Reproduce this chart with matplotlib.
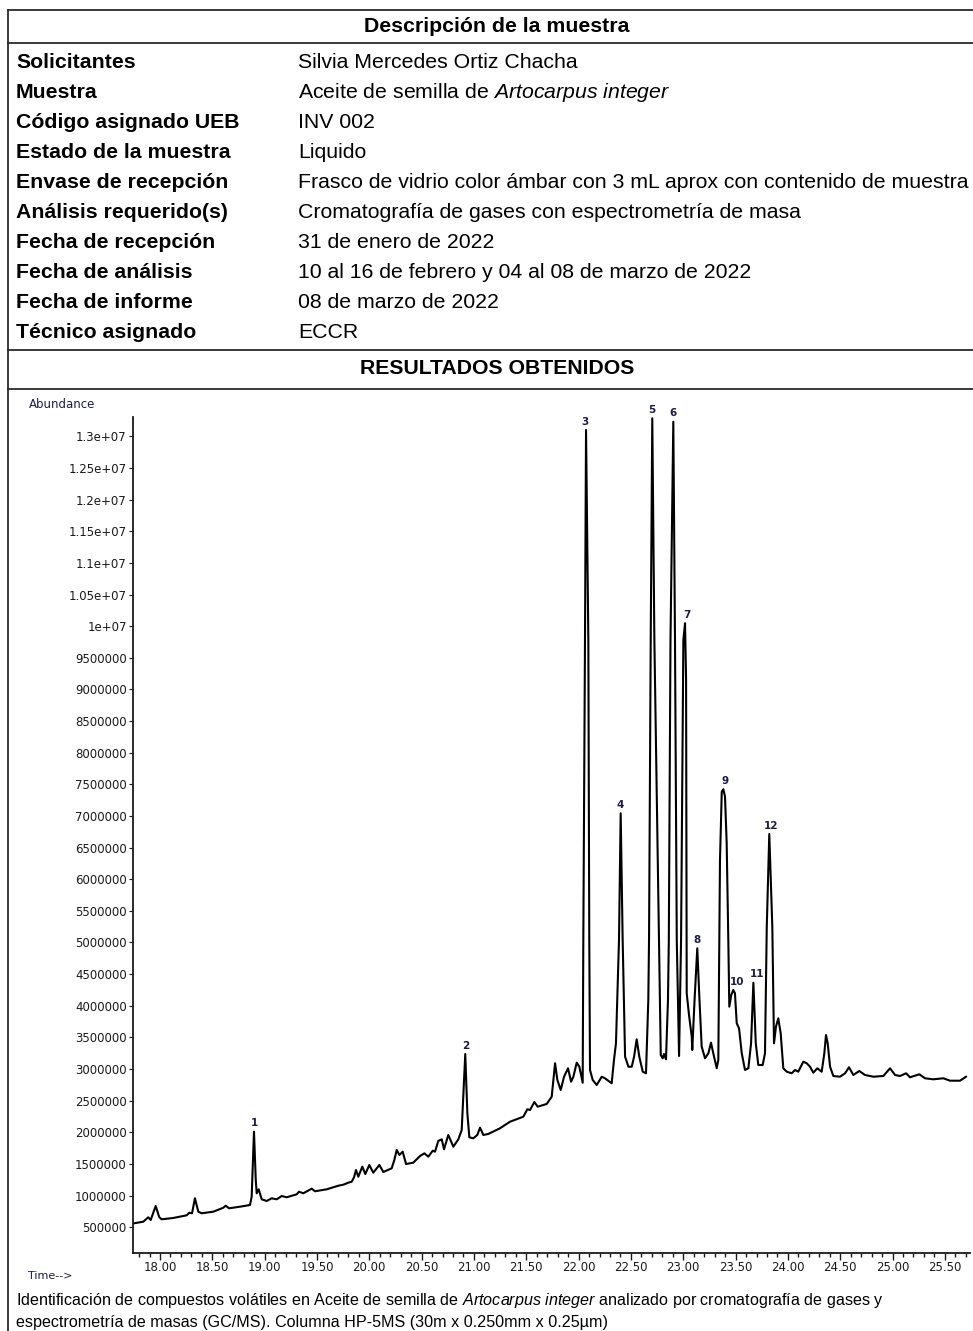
import numpy as np
import matplotlib
matplotlib.use('Agg')
import matplotlib.pyplot as plt
from matplotlib.lines import Line2D
from matplotlib.ticker import MultipleLocator, FixedLocator, FuncFormatter

plt.rcParams['font.family'] = ['Liberation Sans', 'DejaVu Sans']
plt.rcParams['mathtext.fontset'] = 'custom'
plt.rcParams['mathtext.rm'] = 'Liberation Sans'
plt.rcParams['mathtext.it'] = 'Liberation Sans:italic'

W, H = 973, 1331

# sample description table
row_labels = ['Solicitantes', 'Muestra', 'Código asignado UEB', 'Estado de la muestra',
              'Envase de recepción', 'Análisis requerido(s)', 'Fecha de recepción',
              'Fecha de análisis', 'Fecha de informe', 'Técnico asignado']
row_values = ['Silvia Mercedes Ortiz Chacha',
              r'Aceite de semilla de $\mathit{Artocarpus\ integer}$',
              'INV 002', 'Liquido',
              'Frasco de vidrio color ámbar con 3 mL aprox con contenido de muestra',
              'Cromatografía de gases con espectrometría de masa',
              '31 de enero de 2022',
              '10 al 16 de febrero y 04 al 08 de marzo de 2022',
              '08 de marzo de 2022', 'ECCR']

# chromatogram trace (time in min, abundance in millions)
time_min = [17.713, 17.840, 17.888, 17.911, 17.959, 17.993, 18.016, 18.127, 18.255, 18.280,
            18.306, 18.334, 18.366, 18.398, 18.509, 18.605, 18.628, 18.659, 18.764, 18.860,
            18.876, 18.898, 18.915, 18.924, 18.943, 18.972, 19.020, 19.067, 19.115, 19.163,
            19.211, 19.306, 19.328, 19.369, 19.450, 19.481, 19.593, 19.704, 19.752, 19.799,
            19.832, 19.854, 19.873, 19.895, 19.933, 19.962, 20.000, 20.038, 20.096, 20.134,
            20.214, 20.239, 20.262, 20.287, 20.319, 20.351, 20.420, 20.485, 20.526, 20.564,
            20.606, 20.628, 20.659, 20.692, 20.714, 20.755, 20.803, 20.851, 20.883, 20.917,
            20.937, 20.956, 20.994, 21.032, 21.058, 21.090, 21.137, 21.249, 21.345, 21.472,
            21.510, 21.536, 21.577, 21.609, 21.695, 21.743, 21.775, 21.797, 21.829, 21.861,
            21.899, 21.928, 21.950, 21.982, 22.007, 22.039, 22.045, 22.061, 22.071, 22.093,
            22.102, 22.109, 22.135, 22.173, 22.221, 22.252, 22.316, 22.338, 22.357, 22.386,
            22.402, 22.421, 22.444, 22.476, 22.508, 22.530, 22.555, 22.580, 22.613, 22.644,
            22.666, 22.673, 22.689, 22.704, 22.724, 22.768, 22.785, 22.804, 22.816, 22.835,
            22.854, 22.862, 22.878, 22.905, 22.921, 22.938, 22.960, 22.979, 23.001, 23.017,
            23.027, 23.033, 23.055, 23.081, 23.086, 23.108, 23.134, 23.155, 23.176, 23.208,
            23.240, 23.265, 23.287, 23.320, 23.335, 23.351, 23.368, 23.383, 23.399, 23.415,
            23.431, 23.440, 23.459, 23.478, 23.494, 23.511, 23.533, 23.559, 23.590, 23.622,
            23.648, 23.670, 23.693, 23.717, 23.759, 23.781, 23.798, 23.822, 23.851, 23.867,
            23.886, 23.908, 23.931, 23.956, 23.989, 24.036, 24.068, 24.099, 24.147, 24.180,
            24.211, 24.243, 24.281, 24.323, 24.348, 24.364, 24.380, 24.403, 24.434, 24.498,
            24.546, 24.584, 24.625, 24.682, 24.737, 24.816, 24.912, 24.976, 25.024, 25.071,
            25.129, 25.167, 25.256, 25.310, 25.390, 25.485, 25.549, 25.645, 25.702]
abundance_m = [0.550, 0.586, 0.656, 0.613, 0.834, 0.656, 0.624, 0.645, 0.687, 0.728,
               0.719, 0.956, 0.744, 0.719, 0.744, 0.807, 0.839, 0.798, 0.823, 0.850,
               0.981, 2.009, 1.245, 1.035, 1.098, 0.940, 0.913, 0.956, 0.940, 0.992,
               0.972, 1.019, 1.060, 1.035, 1.108, 1.067, 1.098, 1.155, 1.171, 1.203,
               1.218, 1.288, 1.403, 1.297, 1.456, 1.340, 1.482, 1.361, 1.482, 1.372,
               1.430, 1.561, 1.720, 1.641, 1.693, 1.498, 1.519, 1.625, 1.667, 1.614,
               1.708, 1.693, 1.862, 1.889, 1.731, 1.957, 1.772, 1.889, 2.036, 3.237,
               2.300, 1.920, 1.904, 1.957, 2.072, 1.957, 1.973, 2.063, 2.167, 2.246,
               2.363, 2.352, 2.478, 2.404, 2.447, 2.562, 3.090, 2.826, 2.668, 2.878,
               3.011, 2.799, 2.878, 3.100, 3.036, 2.783, 5.039, 9.782, 13.101, 9.782,
               5.039, 2.984, 2.826, 2.747, 2.878, 2.853, 2.774, 3.142, 3.406, 5.039,
               7.042, 5.039, 3.194, 3.036, 3.036, 3.194, 3.469, 3.194, 2.957, 2.932,
               4.091, 5.039, 9.782, 13.286, 9.782, 5.039, 3.221, 3.169, 3.237, 3.153,
               4.091, 5.039, 9.782, 13.232, 9.782, 5.039, 3.206, 5.039, 9.782, 10.046,
               9.149, 4.197, 3.854, 3.511, 3.300, 4.091, 4.908, 4.091, 3.353, 3.169,
               3.248, 3.416, 3.248, 3.011, 3.142, 6.304, 7.384, 7.422, 7.305, 6.568,
               4.987, 3.985, 4.170, 4.249, 4.197, 3.722, 3.643, 3.248, 2.984, 3.011,
               3.406, 4.364, 3.406, 3.063, 3.063, 3.248, 5.249, 6.715, 5.249, 3.406,
               3.669, 3.801, 3.564, 3.011, 2.957, 2.932, 2.984, 2.957, 3.115, 3.090,
               3.036, 2.942, 3.011, 2.957, 3.248, 3.537, 3.406, 3.036, 2.889, 2.878,
               2.932, 3.027, 2.905, 2.968, 2.905, 2.878, 2.889, 3.011, 2.905, 2.889,
               2.932, 2.869, 2.916, 2.853, 2.837, 2.853, 2.815, 2.815, 2.878]

# labelled peaks (retention time, min)
peak_numbers = [1, 2, 3, 4, 5, 6, 7, 8, 9, 10, 11, 12]
peak_rt = [18.898, 20.917, 22.071, 22.402, 22.704, 22.905, 23.017, 23.134,
           23.383, 23.478, 23.670, 23.822]

y_ticks = [500000 * k for k in range(1, 27)]

caption_1 = (r'Identificación de compuestos volátiles en Aceite de semilla de '
             r'$\mathit{Artocarpus\ integer}$ analizado por cromatografía de gases y')
caption_2 = 'espectrometría de masas (GC/MS). Columna HP-5MS (30m x 0.250mm x 0.25µm)'


def fx(px):
    return px / W


def fy(py):
    return 1 - py / H


fig = plt.figure(figsize=(W / 100, H / 100), dpi=100)
fig.patch.set_facecolor('white')

# table frame
line_kw = dict(color='#2b2b2b', lw=1.3, transform=fig.transFigure)
for yy in [10, 43, 350, 389]:
    fig.add_artist(Line2D([fx(8), 1.0], [fy(yy), fy(yy)], **line_kw))
fig.add_artist(Line2D([fx(8), fx(8)], [fy(10), 0.0], **line_kw))

fs = 15.3
fig.text(fx(497), fy(27), 'Descripción de la muestra', ha='center', va='center',
         fontsize=fs, fontweight='bold')
for i, (lab, val) in enumerate(zip(row_labels, row_values)):
    yy = 62 + i * 30.1
    fig.text(fx(16), fy(yy), lab, ha='left', va='center', fontsize=fs, fontweight='bold')
    fig.text(fx(298), fy(yy), val, ha='left', va='center', fontsize=fs)
fig.text(fx(497), fy(368), 'RESULTADOS OBTENIDOS', ha='center', va='center',
         fontsize=fs, fontweight='bold')

# chromatogram
ax = fig.add_axes([fx(133), fy(1252.7), (970 - 133) / W, (1252.7 - 416.7) / H])
t = np.array(time_min)
a = np.array(abundance_m) * 1e6
ax.plot(t, a, color='black', lw=1.5)
ax.set_xlim(17.742, 25.74)
ax.set_ylim(0.096e6, 13.311e6)
for s in ['top', 'right']:
    ax.spines[s].set_visible(False)
for s in ['left', 'bottom']:
    ax.spines[s].set_linewidth(1.3)
    ax.spines[s].set_color('#1a1a1a')

ax.xaxis.set_major_locator(MultipleLocator(0.5))
ax.xaxis.set_minor_locator(MultipleLocator(0.1))
ax.xaxis.set_major_formatter(FuncFormatter(lambda v, p: '%.2f' % v))
ax.yaxis.set_major_locator(FixedLocator(y_ticks))
ax.yaxis.set_major_formatter(FuncFormatter(lambda v, p: ('%g' % v) if v >= 1e7 else '%d' % v))
ax.tick_params(axis='x', which='major', direction='out', length=5, width=1, pad=1,
               labelsize=8.5, colors='#1a1a1a')
ax.tick_params(axis='x', which='minor', direction='out', length=3, width=1, colors='#1a1a1a')
ax.tick_params(axis='y', direction='out', length=3, width=0.8, pad=1.5,
               labelsize=8.5, colors='#1a1a1a')
for lbl in ax.get_xticklabels() + ax.get_yticklabels():
    lbl.set_fontfamily('DejaVu Sans')

nudges = {3: -1, 7: 1.5, 9: 1.5, 10: 3, 11: 2.5, 12: 1.5}
for n, rt in zip(peak_numbers, peak_rt):
    k = int(np.argmin(np.abs(t - rt)))
    ax.annotate(str(n), (t[k], a[k]), xytext=(nudges.get(n, 0), 2.5),
                textcoords='offset points', ha='center', va='bottom',
                fontsize=7.5, fontweight='bold', color='#1c1c48',
                family='DejaVu Sans', annotation_clip=False)

fig.text(fx(29), fy(405), 'Abundance', ha='left', va='center', fontsize=8.5,
         color='#1c1c48', family='DejaVu Sans')
fig.text(fx(28), fy(1276), 'Time-->', ha='left', va='center', fontsize=8,
         color='#1c1c48', family='DejaVu Sans')

fig.text(fx(16), fy(1300), caption_1, ha='left', va='center', fontsize=11.6)
fig.text(fx(16), fy(1322), caption_2, ha='left', va='center', fontsize=11.6)

fig.savefig('out.png', dpi=100, facecolor='white')
